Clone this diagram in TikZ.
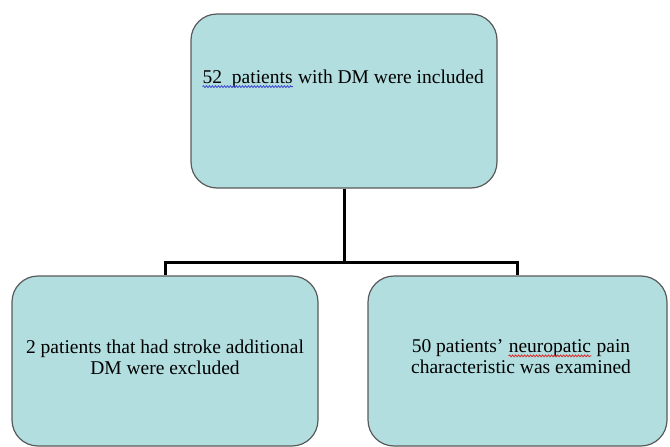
\documentclass[tikz,border=0pt]{standalone}
\usepackage{fontspec}
\setmainfont{Liberation Serif}
\usetikzlibrary{decorations.pathmorphing}
\definecolor{boxfill}{RGB}{178,222,224}
\definecolor{wavblue}{RGB}{60,70,210}
\definecolor{wavred}{RGB}{220,40,40}
% spell-check squiggle under a word
\newcommand\wavy[2]{\tikz[baseline=0pt,x=1pt,y=1pt]{%
  \node[inner sep=0pt,anchor=base west] (wavyword) at (0,0) {#2};
  \draw[#1,line width=0.8pt,decorate,decoration={snake,amplitude=0.9pt,segment length=3pt}]
    ([yshift=-3pt]wavyword.base west) -- ([yshift=-3pt]wavyword.base east);}}
\begin{document}
\begin{tikzpicture}[x=1pt,y=-1pt,
  box/.style={draw=black!65,line width=1.2pt,fill=boxfill,rounded corners=26pt},
  txt/.style={align=center,font=\fontsize{19.5}{21}\selectfont,inner sep=0pt},
  conn/.style={line width=3pt}]
\useasboundingbox (0,0) rectangle (670,447);
% boxes
\node[box,minimum width=306pt,minimum height=174pt] (top) at (344,101) {};
\node[box,minimum width=306pt,minimum height=170pt] (left) at (165,361) {};
\node[box,minimum width=299pt,minimum height=170pt] (right) at (517.5,361) {};
% texts
\node[txt] (toptext) at (343,79) {\wavy{wavblue}{52~~patients} with DM were included};
\node[txt] (lefttext) at (165,357) {2 patients that had stroke additional\\DM were excluded};
\node[txt] (righttext) at (521,357) {50 patients' \wavy{wavred}{neuropatic} pain\\characteristic was examined};
% connectors
\coordinate (split) at (top.south |- 0,262);
\draw[conn] (top.south) -- (split);
\draw[conn] (left.north) |- (split) -| (right.north);
\end{tikzpicture}
\end{document}
